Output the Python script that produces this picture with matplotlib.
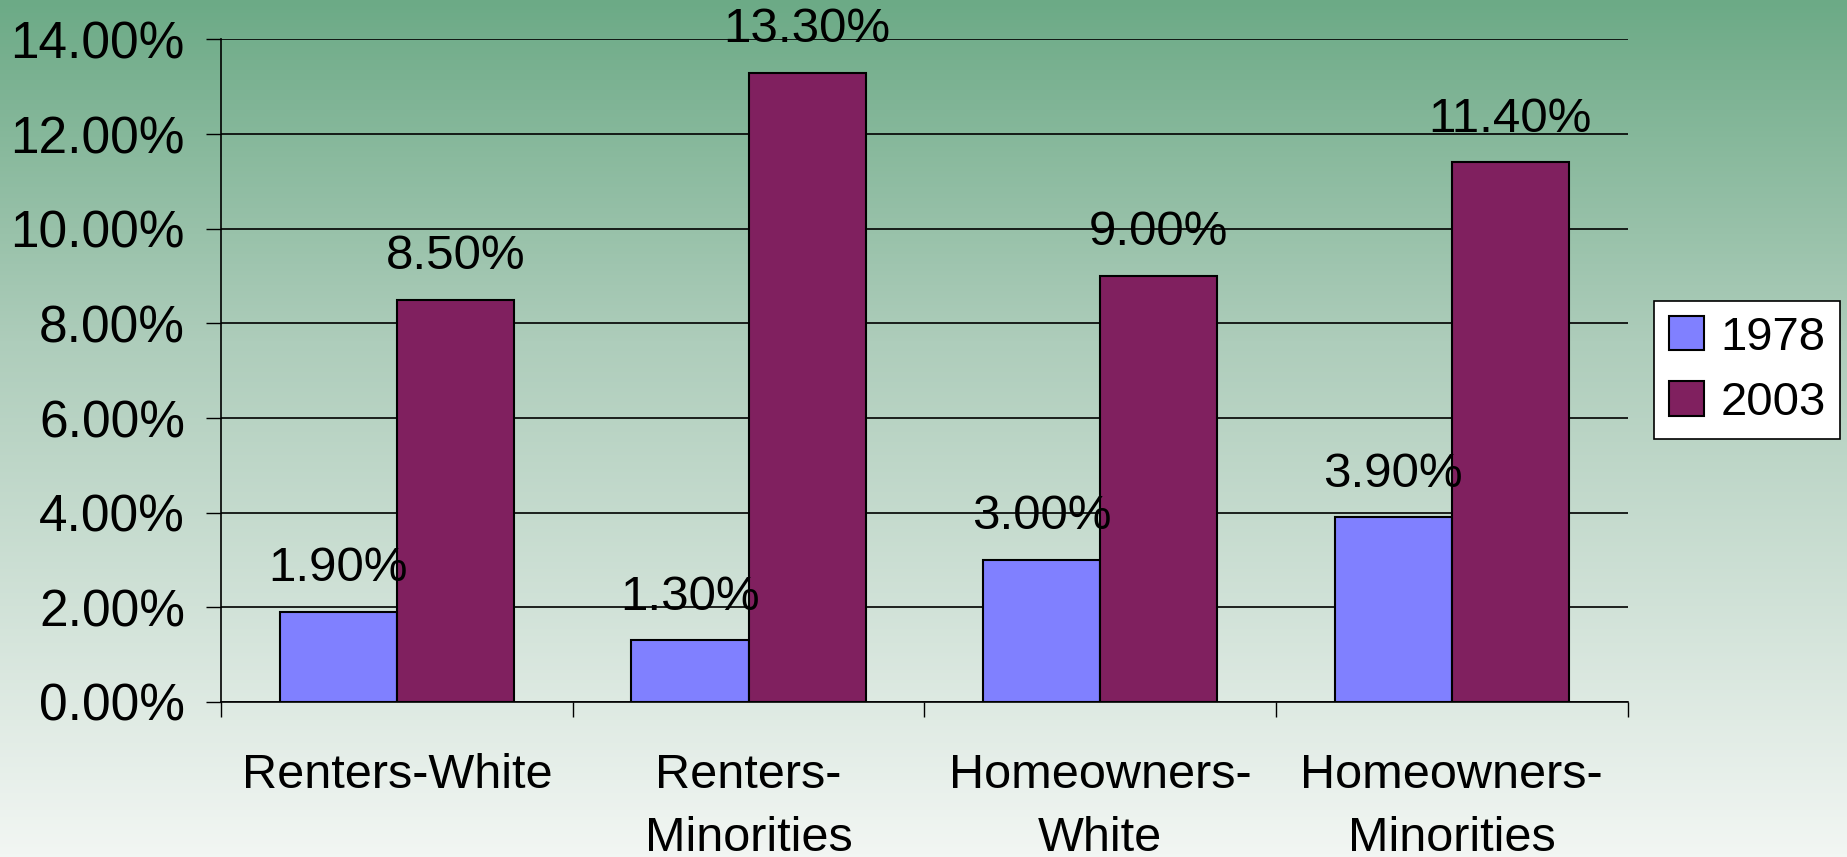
import matplotlib.pyplot as plt
import numpy as np
from matplotlib.colors import LinearSegmentedColormap
from matplotlib.ticker import FuncFormatter

categories = ["Renters-White", "Renters-\nMinorities", "Homeowners-\nWhite", "Homeowners-\nMinorities"]
series_names = ["1978", "2003"]
values_1978 = [1.90, 1.30, 3.00, 3.90]
values_2003 = [8.50, 13.30, 9.00, 11.40]
colors = ["#8080FF", "#80205F"]

plt.rcParams['font.family'] = ['Liberation Sans', 'DejaVu Sans']

fig = plt.figure(figsize=(18.47, 8.57), dpi=100)

# green-to-white vertical gradient background
bg = fig.add_axes([0, 0, 1, 1], zorder=-10)
grad = LinearSegmentedColormap.from_list(
    "bg", [(0.0, "#6CAA86"), (0.4, "#AECDBB"), (1.0, "#F2F6F3")])
bg.imshow(np.linspace(0, 1, 256).reshape(-1, 1), aspect="auto", cmap=grad,
          extent=[0, 1, 1, 0])
bg.set_axis_off()

ax = fig.add_axes([0.1197, 0.1809, 0.7615, 0.7731])
ax.set_facecolor("none")

x = np.arange(len(categories))
w = 1 / 3
b1 = ax.bar(x - w / 2, values_1978, w, color=colors[0], edgecolor="black",
            linewidth=1.5, label=series_names[0], zorder=3)
b2 = ax.bar(x + w / 2, values_2003, w, color=colors[1], edgecolor="black",
            linewidth=1.5, label=series_names[1], zorder=3)

for bars, vals in [(b1, values_1978), (b2, values_2003)]:
    for bar, v in zip(bars, vals):
        ax.annotate(f"{v:.2f}%", (bar.get_x() + bar.get_width() / 2, v),
                    xytext=(0, 15), textcoords="offset points",
                    ha="center", va="bottom", fontsize=35.5, zorder=5)

ax.set_xlim(-0.5, len(categories) - 0.5)
ax.set_ylim(0, 14)
ax.set_yticks(np.arange(0, 15, 2))
ax.yaxis.set_major_formatter(FuncFormatter(lambda v, p: f"{v:.2f}%"))
ax.yaxis.grid(True, color="black", linewidth=1.2, zorder=0)
ax.set_axisbelow(True)

ax.set_xticks(x)
ax.set_xticklabels(categories, linespacing=1.5)
ax.set_xticks(np.arange(-0.5, len(categories), 1), minor=True)
ax.tick_params(axis="x", which="major", length=0, pad=37, labelsize=35)
ax.tick_params(axis="x", which="minor", length=11, width=1, direction="out")
ax.tick_params(axis="y", length=11, width=1, direction="out", pad=15, labelsize=37)

for s in ["top", "right"]:
    ax.spines[s].set_visible(False)
ax.spines["left"].set_linewidth(1.2)
ax.spines["bottom"].set_linewidth(1.2)

leg = ax.legend(loc="center", bbox_to_anchor=(0.946, 0.568),
                bbox_transform=fig.transFigure, fontsize=34, frameon=True,
                fancybox=False, edgecolor="black", framealpha=1,
                handlelength=0.75, handleheight=0.75, handletextpad=0.35,
                borderpad=0.3, labelspacing=0.45)
leg.get_frame().set_linewidth(1.2)

fig.savefig("out.png", dpi=100)
